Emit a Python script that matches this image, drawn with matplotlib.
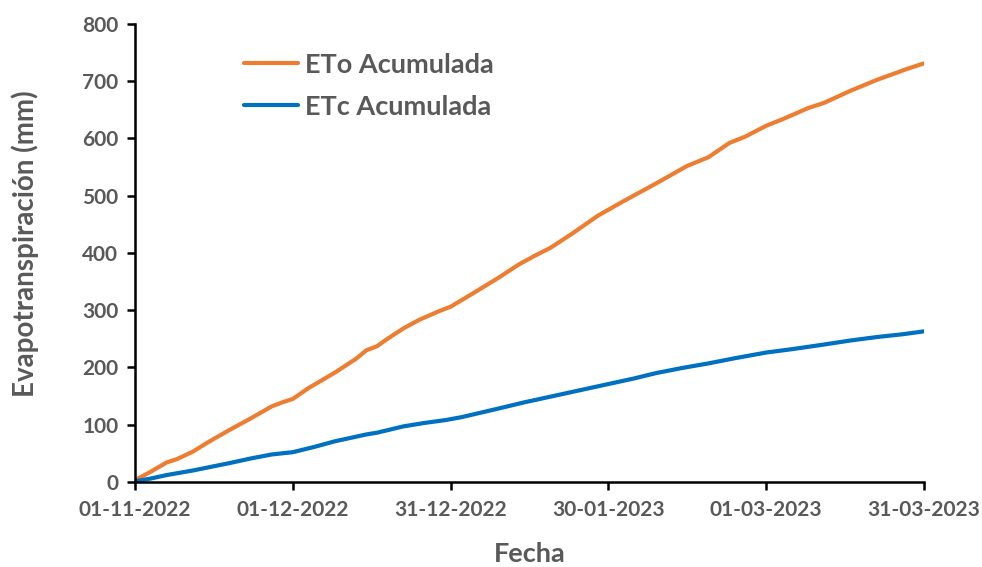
import matplotlib
matplotlib.use("Agg")
import matplotlib.pyplot as plt
import matplotlib.dates as mdates
import pandas as pd

# Cumulative reference evapotranspiration (ETo)
eto_dates = ["2022-11-01", "2022-11-04", "2022-11-07", "2022-11-09", "2022-11-12",
             "2022-11-15", "2022-11-19", "2022-11-23", "2022-11-27", "2022-11-29",
             "2022-12-01", "2022-12-04", "2022-12-09", "2022-12-13", "2022-12-15",
             "2022-12-17", "2022-12-19", "2022-12-22", "2022-12-25", "2022-12-29",
             "2022-12-31", "2023-01-04", "2023-01-09", "2023-01-13", "2023-01-16",
             "2023-01-19", "2023-01-23", "2023-01-28", "2023-02-02", "2023-02-08",
             "2023-02-14", "2023-02-18", "2023-02-22", "2023-02-25", "2023-03-01",
             "2023-03-04", "2023-03-09", "2023-03-12", "2023-03-17", "2023-03-22",
             "2023-03-25", "2023-03-28", "2023-03-31"]
eto_values = [3, 18, 34, 40, 53,
              70, 91, 111, 132, 139,
              145, 164, 191, 215, 230,
              237, 250, 268, 283, 299,
              306, 328, 356, 380, 395,
              409, 433, 465, 491, 521,
              552, 567, 592, 603, 622,
              633, 653, 662, 683, 702,
              712, 722, 731]

# Cumulative crop evapotranspiration (ETc)
etc_dates = ["2022-11-01", "2022-11-04", "2022-11-07", "2022-11-12", "2022-11-19",
             "2022-11-23", "2022-11-27", "2022-12-01", "2022-12-05", "2022-12-09",
             "2022-12-13", "2022-12-15", "2022-12-17", "2022-12-22", "2022-12-26",
             "2022-12-30", "2023-01-02", "2023-01-09", "2023-01-14", "2023-01-19",
             "2023-01-25", "2023-01-30", "2023-02-04", "2023-02-08", "2023-02-13",
             "2023-02-18", "2023-02-23", "2023-03-01", "2023-03-06", "2023-03-12",
             "2023-03-17", "2023-03-22", "2023-03-27", "2023-03-31"]
etc_values = [1, 6, 12, 20, 33,
              41, 48, 52, 61, 71,
              79, 83, 86, 97, 103,
              108, 113, 128, 139, 149,
              161, 171, 181, 190, 199,
              207, 216, 226, 232, 240,
              247, 253, 258, 263]

x_ticks = ["2022-11-01", "2022-12-01", "2022-12-31", "2023-01-30", "2023-03-01", "2023-03-31"]
y_ticks = [0, 100, 200, 300, 400, 500, 600, 700, 800]

TEXT = "#595959"
plt.rcParams["font.family"] = ["Lato", "DejaVu Sans"]
plt.rcParams["font.weight"] = "bold"

fig = plt.figure(figsize=(9.82, 5.67), dpi=100)
ax = fig.add_axes([0.1375, 0.150, 0.8035, 0.808])

ax.plot(pd.to_datetime(eto_dates), eto_values, color="#ED7D31", lw=3.0,
        solid_capstyle="round", label="ETo Acumulada")
ax.plot(pd.to_datetime(etc_dates), etc_values, color="#0070C0", lw=3.0,
        solid_capstyle="round", label="ETc Acumulada")

xt = pd.to_datetime(x_ticks)
ax.set_xlim(xt[0], xt[-1])
ax.set_xticks(xt)
ax.xaxis.set_major_formatter(mdates.DateFormatter("%d-%m-%Y"))
ax.set_ylim(0, 800)
ax.set_yticks(y_ticks)

for side in ("top", "right"):
    ax.spines[side].set_visible(False)
for side in ("left", "bottom"):
    ax.spines[side].set_linewidth(1.8)
    ax.spines[side].set_color("black")

ax.tick_params(axis="both", direction="out", length=6, width=1.8, color="black",
               labelsize=15, labelcolor=TEXT)
ax.tick_params(axis="x", pad=7)
ax.tick_params(axis="y", pad=6)
for lbl in ax.get_xticklabels() + ax.get_yticklabels():
    lbl.set_fontweight("bold")

ax.set_xlabel("Fecha", fontsize=19.5, fontweight="bold", color=TEXT, labelpad=16)
ax.set_ylabel("Evapotranspiración (mm)", fontsize=20, fontweight="bold", color=TEXT)
ax.yaxis.set_label_coords(-0.122, 0.52)

leg = ax.legend(loc="upper left", bbox_to_anchor=(0.107, 0.99), frameon=False,
                fontsize=19.5, handlelength=2.0, handletextpad=0.25, labelspacing=0.66)
for t in leg.get_texts():
    t.set_color(TEXT)
    t.set_fontweight("bold")

fig.savefig("out.png", dpi=100)
